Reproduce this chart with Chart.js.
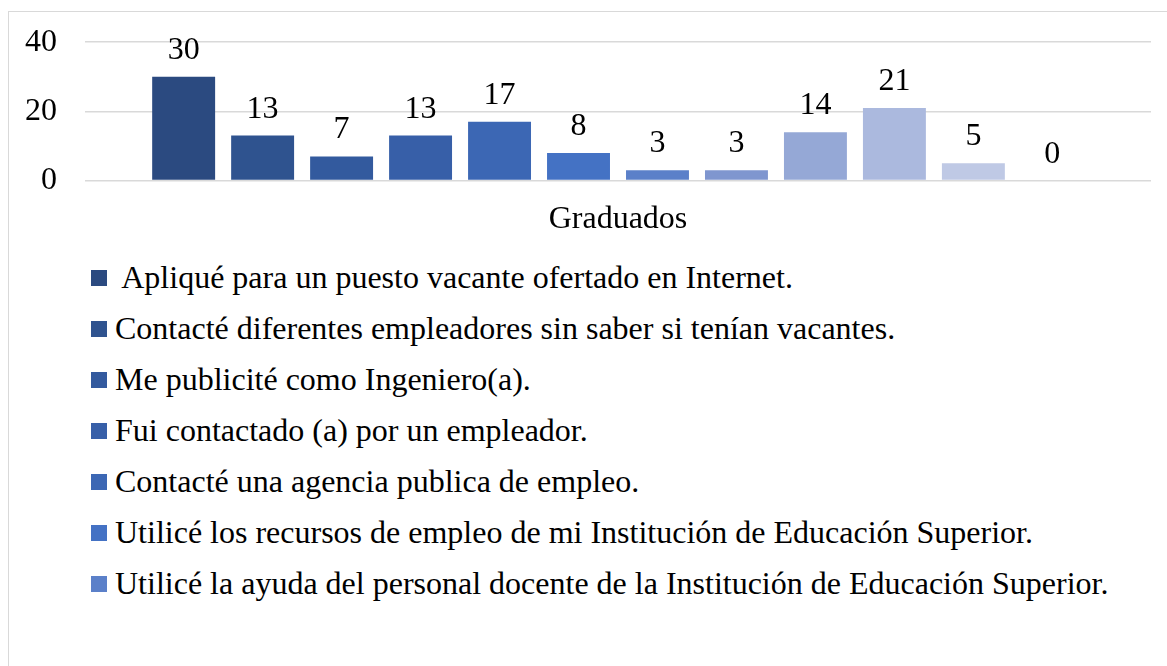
<!DOCTYPE html>
<html>
<head>
<meta charset="utf-8">
<script src="https://cdn.jsdelivr.net/npm/chart.js@4.4.1/dist/chart.umd.min.js"></script>
<style>
  html, body { margin: 0; padding: 0; background: #fff; }
  body { width: 1167px; height: 666px; position: relative; overflow: hidden; font-family: "Liberation Serif", "Times New Roman", serif; }
  .frame { position: absolute; left: 8px; top: 11px; width: 1200px; height: 700px; border: 1px solid #d9d9d9; }
  .chart-wrap { position: absolute; left: 0; top: -5px; width: 1167px; height: 256px; }
  #legend { position: absolute; left: 91px; top: 252px; margin: 0; padding: 0; list-style: none; }
  #legend li { height: 51px; line-height: 51px; font-size: 32px; color: #000; white-space: pre; display: flex; align-items: center; }
  #legend .box { width: 16px; height: 16px; margin-right: 8px; flex: none; }
</style>
</head>
<body>
<div class="frame"></div>
<div class="chart-wrap"><canvas id="chart"></canvas></div>
<ul id="legend"></ul>
<script>
// category and series
const CATEGORIES = ['Graduados'];
const SERIES_LABELS = [
  ' Apliqué para un puesto vacante ofertado en Internet.',
  'Contacté diferentes empleadores sin saber si tenían vacantes.',
  'Me publicité como Ingeniero(a).',
  'Fui contactado (a) por un empleador.',
  'Contacté una agencia publica de empleo.',
  'Utilicé los recursos de empleo de mi Institución de Educación Superior.',
  'Utilicé la ayuda del personal docente de la Institución de Educación Superior.'
];
const SERIES_VALUES = [30, 13, 7, 13, 17, 8, 3, 3, 14, 21, 5, 0];
const SERIES_COLORS = ['#2b4a80', '#2f538f', '#335a9e', '#375fa8', '#3c67b4', '#4472c4',
  '#5b80c9', '#7f96cf', '#95a8d6', '#abb9de', '#bfc9e5', '#d3dbef'];
const Y_TICKS = [0, 20, 40];

const FONT = { family: '"Liberation Serif", "Times New Roman", serif', size: 32 };

// value labels above each bar
const valueLabels = {
  id: 'valueLabels',
  afterDatasetsDraw(chart) {
    const ctx = chart.ctx;
    ctx.save();
    ctx.font = FONT.size + 'px ' + FONT.family;
    ctx.fillStyle = '#000';
    ctx.textAlign = 'center';
    ctx.textBaseline = 'alphabetic';
    chart.data.datasets.forEach((ds, i) => {
      const bar = chart.getDatasetMeta(i).data[0];
      ctx.fillText(String(ds.data[0]), bar.x, bar.y - 18);
    });
    ctx.restore();
  }
};

const datasets = SERIES_VALUES.map((v, i) => ({
  label: SERIES_LABELS[i] || '',
  data: [v],
  backgroundColor: SERIES_COLORS[i],
  categoryPercentage: 0.889,
  barPercentage: 0.797
}));

const chart = new Chart(document.getElementById('chart'), {
  type: 'bar',
  data: { labels: CATEGORIES, datasets },
  plugins: [valueLabels],
  options: {
    responsive: true,
    maintainAspectRatio: false,
    animation: false,
    layout: { padding: { left: 0, right: 16, top: 38, bottom: 0 } },
    plugins: {
      legend: { display: false },
      tooltip: { enabled: false }
    },
    scales: {
      x: {
        grid: { display: false },
        border: { display: false },
        ticks: { font: FONT, color: '#000', padding: 12 }
      },
      y: {
        min: 0,
        max: 40,
        afterBuildTicks: (scale) => { scale.ticks = Y_TICKS.map(v => ({ value: v })); },
        afterFit: (scale) => { scale.width = 85; },
        grid: { color: '#d9d9d9', lineWidth: 1.5, drawTicks: false },
        border: { display: false },
        ticks: { font: FONT, color: '#000', padding: 28 }
      }
    }
  }
});

// legend as a list, one entry per line
const legend = document.getElementById('legend');
chart.data.datasets.forEach(ds => {
  if (!ds.label) return;
  const li = document.createElement('li');
  const box = document.createElement('span');
  box.className = 'box';
  box.style.background = ds.backgroundColor;
  li.appendChild(box);
  li.appendChild(document.createTextNode(ds.label));
  legend.appendChild(li);
});
</script>
</body>
</html>
